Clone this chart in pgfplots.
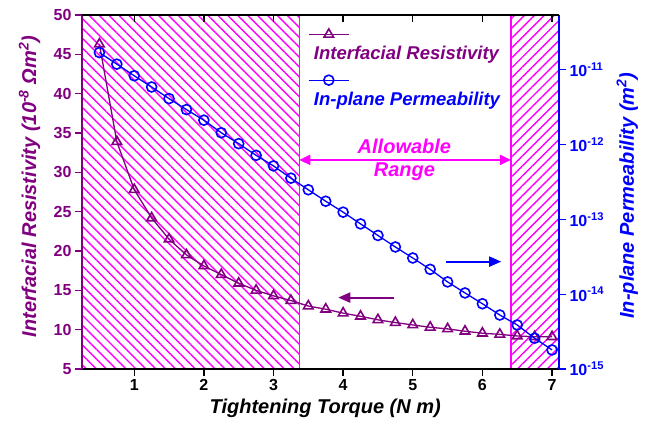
\documentclass[border=0pt]{standalone}
\usepackage{fontspec}
\setmainfont{Liberation Sans}
\usepackage{pgfplots}
\pgfplotsset{compat=1.18}
\usetikzlibrary{patterns.meta,arrows.meta}
\definecolor{respurple}{HTML}{800080}
\definecolor{permblue}{HTML}{0000FF}
\definecolor{hatchpink}{HTML}{FF00FF}

\newcommand{\tickfont}{\fontsize{16bp}{19bp}\selectfont\bfseries}
\newcommand{\labfont}{\fontsize{20bp}{24bp}\selectfont\bfseries\itshape}

\begin{document}
\begin{tikzpicture}
\pgfplotsset{
  every axis/.append style={
    scale only axis, width=477bp, height=354bp,
    xmin=0.25, xmax=7.1,
    major tick length=7bp, minor tick length=4bp,
    /pgf/number format/assume math mode=true,
  },
  legend image code/.code={
    \draw[mark repeat=2,mark phase=2,#1]
      plot coordinates {(0cm,0cm) (0.7cm,0cm) (1.4cm,0cm)};
  },
}

% left axis: interfacial resistivity
\begin{axis}[
  axis on top,
  ymin=5, ymax=50,
  axis x line*=bottom, axis y line*=left,
  tick align=outside,
  xtick={1,2,3,4,5,6,7}, ytick={5,10,...,50},
  x axis line style={black, line width=1.6bp},
  y axis line style={respurple, line width=1.6bp},
  xtick style={black, line width=1.4bp},
  ytick style={respurple, line width=1.4bp},
  xticklabel style={font=\tickfont},
  yticklabel style={font=\tickfont, text=respurple},
  xlabel={Tightening Torque (N m)},
  xlabel style={font=\labfont, at={(axis description cs:0.51,-0.11)}, anchor=center},
  ylabel={Interfacial Resistivity (10\textsuperscript{-8} Ωm\textsuperscript{2})},
  ylabel style={font=\labfont, text=respurple, at={(axis description cs:-0.11,0.515)}, anchor=center},
  legend style={at={(0.474,0.949)}, anchor=west, draw=none, fill=none, inner sep=0pt,
    nodes={inner sep=1pt}},
]
% hatched regions outside the allowable range
\addplot[forget plot, draw=hatchpink, line width=1.2bp,
  pattern={Lines[angle=-45,distance=7bp,line width=1.4bp]}, pattern color=hatchpink]
  coordinates {(0.25,5) (3.37,5) (3.37,50) (0.25,50)} -- cycle;
\addplot[forget plot, draw=hatchpink, line width=1.2bp,
  pattern={Lines[angle=45,distance=7bp,line width=1.4bp]}, pattern color=hatchpink]
  coordinates {(6.41,5) (7.1,5) (7.1,50) (6.41,50)} -- cycle;

\addplot[respurple, line width=1.3bp, mark=triangle, mark size=5.5bp,
  mark options={solid, fill=white, line width=1.6bp}] coordinates {
  (0.5,46.3) (0.75,33.9) (1.0,27.8) (1.25,24.2) (1.5,21.5) (1.75,19.5)
  (2.0,18.1) (2.25,17.0) (2.5,15.9) (2.75,15.0) (3.0,14.3) (3.25,13.7)
  (3.5,13.0) (3.75,12.6) (4.0,12.1) (4.25,11.7) (4.5,11.25) (4.75,10.9)
  (5.0,10.6) (5.25,10.3) (5.5,10.1) (5.75,9.8) (6.0,9.55) (6.25,9.4)
  (6.5,9.2) (6.75,9.1) (7.0,9.1)
};
\addlegendentry{}

\node[anchor=west, text=respurple, font=\fontsize{18.5bp}{22bp}\selectfont\bfseries\itshape]
  at (axis cs:3.53,44.9) {Interfacial Resistivity};
\node[anchor=west, text=permblue, font=\fontsize{18.5bp}{22bp}\selectfont\bfseries\itshape]
  at (axis cs:3.53,39.1) {In-plane Permeability};

\draw[hatchpink, line width=2bp, {Triangle[length=11bp,width=10bp]}-{Triangle[length=11bp,width=10bp]}]
  (axis cs:3.37,31.58) -- (axis cs:6.41,31.58);
\node[text=hatchpink, font=\labfont] at (axis cs:4.88,33.27) {Allowable};
\node[text=hatchpink, font=\labfont] at (axis cs:4.88,30.09) {Range};

\draw[permblue, line width=2bp, -{Triangle[length=12bp,width=10bp]}]
  (axis cs:5.48,18.65) -- (axis cs:6.27,18.65);
\draw[respurple, line width=2bp, -{Triangle[length=12bp,width=10bp]}]
  (axis cs:4.73,14.08) -- (axis cs:3.93,14.08);
\end{axis}

% right axis: in-plane permeability
\begin{axis}[
  ymode=log, log basis y=10,
  ymin=1e-15, ymax=5.4e-11,
  axis x line=none, axis y line*=right,
  tick align=outside,
  ytick={1e-15,1e-14,1e-13,1e-12,1e-11},
  y axis line style={permblue, line width=1.6bp},
  ytick style={permblue, line width=1.4bp},
  minor y tick style={permblue, line width=1bp},
  yticklabel={\textbf{10}\textsuperscript{\textbf{\pgfmathparse{int(round(\tick))}\pgfmathresult}}},
  yticklabel style={font=\tickfont, text=permblue},
  ylabel={In-plane Permeability (m\textsuperscript{2})},
  ylabel style={font=\labfont, text=permblue, at={(axis description cs:1.143,0.49)}, anchor=center},
  legend style={at={(0.474,0.816)}, anchor=west, draw=none, fill=none, inner sep=0pt,
    nodes={inner sep=1pt}},
]
\addplot[permblue, line width=1.3bp, mark=o, mark size=5bp,
  mark options={solid, fill=white, line width=1.6bp}] coordinates {
  (0.5,1.70e-11) (0.75,1.19e-11) (1.0,8.32e-12) (1.25,5.89e-12) (1.5,4.12e-12)
  (1.75,2.94e-12) (2.0,2.12e-12) (2.25,1.44e-12) (2.5,1.03e-12) (2.75,7.19e-13)
  (3.0,5.19e-13) (3.25,3.56e-13) (3.5,2.49e-13) (3.75,1.75e-13) (4.0,1.25e-13)
  (4.25,8.71e-14) (4.5,6.10e-14) (4.75,4.28e-14) (5.0,3.05e-14) (5.25,2.15e-14)
  (5.5,1.46e-14) (5.75,1.04e-14) (6.0,7.46e-15) (6.25,5.27e-15) (6.5,3.88e-15)
  (6.75,2.58e-15) (7.0,1.80e-15)
};
\addlegendentry{}
\end{axis}

% top axis: inward ticks only
\begin{axis}[
  ymin=0, ymax=1,
  axis x line*=top, axis y line=none,
  tick align=inside,
  xtick={1,2,3,4,5,6,7}, xticklabels={},
  x axis line style={black, line width=1.6bp},
  xtick style={black, line width=1.4bp},
]
\end{axis}

\pgfresetboundingbox
\useasboundingbox (-82bp,-62bp) rectangle (572bp,369bp);
\end{tikzpicture}
\end{document}
